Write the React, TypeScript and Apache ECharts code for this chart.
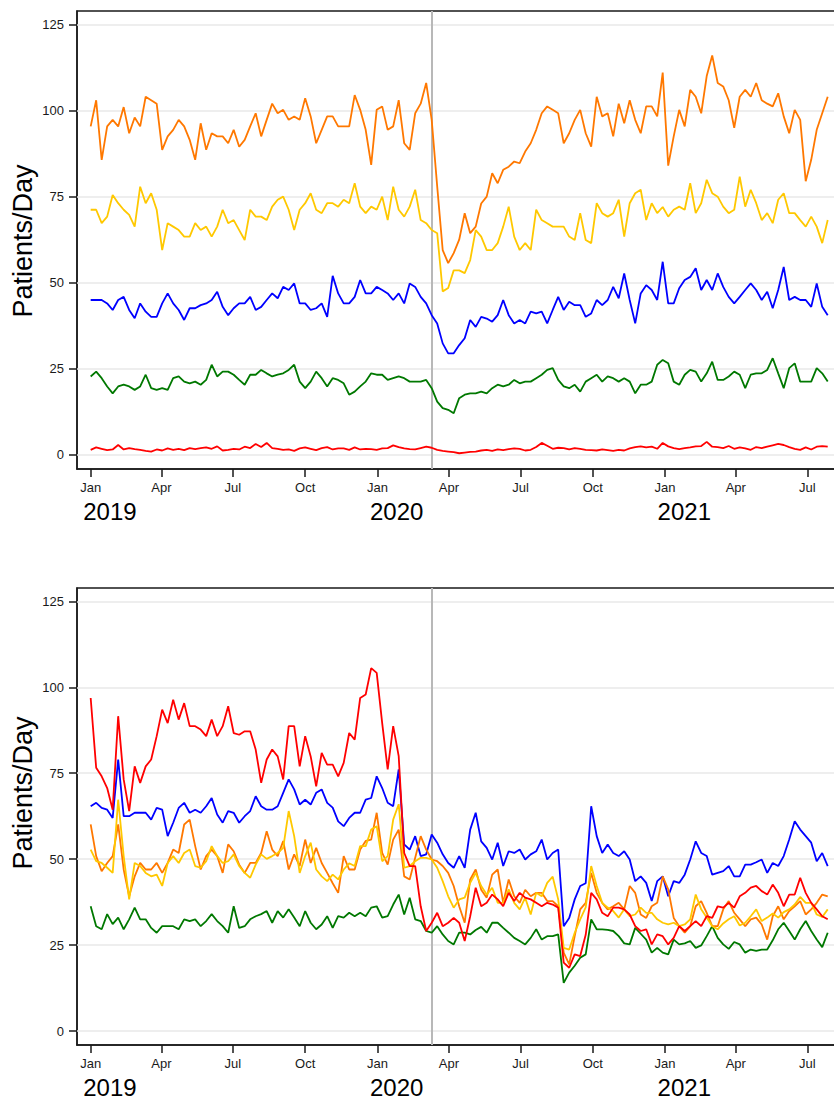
import React, { useEffect, useRef } from "react";
import * as echarts from "echarts";

// ---- Data (weekly readings, starting 1 Jan 2019) ----
const START_DATE = [2019, 0, 1];
const STEP_DAYS = 7;
const EVENT_DATE = [2020, 2, 10];
const yTicks = [0, 25, 50, 75, 100, 125];
const monthTicks = [
  [2019, 0], [2019, 3], [2019, 6], [2019, 9],
  [2020, 0], [2020, 3], [2020, 6], [2020, 9],
  [2021, 0], [2021, 3], [2021, 6],
];
const yearTicks = [2019, 2020, 2021];
const monthNames = ["Jan", "Feb", "Mar", "Apr", "May", "Jun", "Jul", "Aug", "Sep", "Oct", "Nov", "Dec"];

// Top panel
const topOrange = [
  95.4, 103, 85.7, 95.4, 97.3, 95.4, 101, 93.4, 98, 95.4, 104, 103, 102, 88.6, 92.5, 94.4, 97.3, 95.4, 91.5, 85.7,
  96.3, 88.6, 93.4, 92.5, 92.5, 90.5, 94.4, 89.5, 91.5, 95.4, 99.2, 92.5, 97.3, 102, 99.2, 100.2, 97.3, 98.3, 97.3, 103.6,
  98.3, 90.5, 94.4, 98.3, 98.3, 95.4,
  95.4, 95.4, 104.5, 100.2, 94.4, 84.2, 100.2, 101.2, 94.4, 95.4, 103, 90.5, 88.6, 99.2, 102, 108, 97.3, 78, 59.5, 55.7,
  58.6, 62.5, 70.2, 64.4, 66.3, 73, 75, 81.8, 78.9, 82.8, 83.7, 85.2, 84.7, 88.1, 90.5, 94.4, 99.2, 101.2, 100.2, 99.2,
  90.5, 93.4, 97.3, 100.2, 93.4,
  89.5, 104, 98.3, 99.2, 92.5, 102, 96.3, 103, 97.3, 93.4, 101.2, 101.2, 98.3, 111, 84, 92.5, 100.2, 95.4, 106, 104,
  99.2, 110, 116, 108, 107, 103, 95, 104, 106, 104, 108, 103, 102, 101.2, 105, 98.3, 93.4, 100.2, 97.3, 79.5,
  85.7, 94.4, 99.2, 104,
];
const topYellow = [
  71.2, 71.2, 67.3, 69.2, 75.5, 73.1, 71.2, 69.7, 66.3, 77.9, 73.1, 76, 71.2, 59.5, 67.3, 66.3, 65.3, 63.4, 63.4, 67.3,
  65.3, 66.3, 63.4, 66.3, 71.2, 67.3, 68.2, 65.3, 62.4, 71.2, 69.2, 69.2, 68.2, 72.1, 74.1, 75, 71.2, 65.3, 71.2, 73.1,
  76, 71.2, 70.2, 73.1, 73.1, 72.1,
  74.1, 73.1, 78.9, 72.1, 70.2, 72.1, 71.2, 75, 68.2, 77.9, 71.2, 69.2, 72.1, 77, 68.2, 67.3, 65.3, 64.4, 47.5, 48.5,
  53.6, 53.6, 52.8, 56.6, 65.3, 63.4, 59.5, 59.5, 61.5, 66.3, 72.1, 63.4, 59.5, 61.5, 59.5, 71.2, 68.2, 67.3, 66.3, 66.3,
  66.3, 63.4, 62.4, 70.2, 62.4,
  61.5, 73.1, 70.2, 69.2, 70.2, 74.1, 63.4, 73.1, 76, 77, 68.2, 73.1, 70.2, 72, 69.2, 71.2, 72.1, 71.2, 78.9, 70.2,
  73.1, 79.9, 76, 75, 72.1, 70.2, 71.2, 80.8, 72.1, 77, 73.1, 68.2, 70.2, 67.3, 74.1, 76, 70.2, 70.2, 68.2, 66.3,
  69.2, 66.3, 61.5, 68.2,
];
const topBlue = [
  45, 45, 45, 44, 42.1, 45, 45.9, 42.1, 39.7, 44, 41.6, 40.1, 40.1, 44, 46.9, 44, 42.1, 39.2, 42.6, 42.6,
  43.5, 44, 45, 47.4, 43, 40.6, 42.6, 44, 44, 45.9, 42.1, 43, 45, 46.9, 45.5, 48.8, 47.9, 49.8, 44, 44,
  42.1, 42.6, 44, 40.1, 52,
  46.9, 44, 44, 45.9, 50.8, 46.9, 46.9, 48.8, 47.9, 46.9, 45, 46.9, 44, 49.8, 48.8, 45.9, 44, 40.6, 38.2, 32.4,
  29.5, 29.5, 31.9, 33.9, 39.2, 37.2, 40.1, 39.6, 38.7, 40.6, 45, 40.6, 38.2, 39.2, 38.2, 41.6, 41.1, 41.6, 38.2, 42.1,
  45.9, 42.1, 44.5, 43.5, 43.5, 40.1,
  41.1, 45, 43.5, 45, 48.8, 45.5, 52.7, 45, 38.2, 46.9, 49.3, 47.9, 45, 56.1, 44, 44, 48.4, 50.8, 51.7, 54.2,
  47.9, 50.8, 47.9, 52.7, 48.8, 45.9, 44, 45.9, 47.9, 49.8, 47.9, 45, 47.4, 42.6, 47.9, 54.6, 45, 45.9, 45, 45,
  43, 49.8, 43, 40.6,
];
const topGreen = [
  22.8, 24.2, 22.3, 19.9, 17.9, 19.9, 20.4, 19.9, 18.9, 19.9, 23.3, 19.4, 18.9, 19.4, 18.9, 22.3, 22.8, 21.3, 20.8, 21.3,
  20.4, 21.8, 26.2, 22.8, 24.2, 24.2, 23.3, 21.8, 20.4, 23.3, 23.3, 24.7, 23.7, 22.8, 23.3, 23.7, 24.7, 26.2, 21.3, 19.4,
  21.3, 24.2, 22.3, 19.9, 22.3,
  21.8, 20.8, 17.5, 18.4, 19.9, 21.3, 23.7, 23.3, 23.3, 21.8, 22.3, 22.8, 22.3, 21.3, 21.3, 21.3, 21.8, 19.4, 15.5, 13.6,
  13.1, 12.1, 16.5, 17.5, 17.9, 17.9, 18.4, 17.9, 19.4, 20.4, 19.9, 20.4, 21.8, 20.8, 21.3, 21.3, 22.3, 23.3, 24.7, 25.2,
  21.8, 19.9, 19.4, 20.4, 18.4, 21.3,
  22.3, 23.3, 21.3, 22.8, 22.3, 21.3, 22.3, 21.3, 17.9, 20.4, 20.4, 21.3, 26.2, 27.6, 26.6, 21.3, 20.4, 23.3, 24.7, 24.2,
  21.3, 23.7, 27.1, 21.8, 21.8, 22.8, 24.2, 23.3, 19.4, 23.3, 23.7, 23.7, 24.7, 28.1, 23.7, 19.4, 25.2, 26.6, 21.3, 21.3,
  21.3, 25.2, 23.7, 21.3,
];
const topRed = [
  1.5, 2.2, 1.8, 1.4, 1.6, 2.9, 1.6, 2.0, 1.7, 1.5, 1.2, 1.0, 1.6, 1.3, 1.9, 1.5, 1.8, 1.4, 2.0, 1.7,
  2.0, 2.2, 1.8, 2.5, 1.3, 1.5, 1.8, 1.6, 2.4, 2.0, 3.2, 2.3, 3.5, 2.0, 1.8, 1.5, 1.6, 1.2, 1.9, 2.2,
  1.8, 1.4, 2.0, 2.3, 1.6, 1.9,
  1.9, 1.5, 2.2, 1.6, 1.8, 1.7, 1.5, 1.9, 2.0, 2.8, 2.3, 1.9, 1.7, 1.6, 2.0, 2.4, 2.1, 1.5, 1.2, 1.0,
  0.8, 0.5, 0.7, 0.9, 1.0, 1.3, 1.5, 1.2, 1.6, 1.4, 1.7, 1.9, 1.8, 1.3, 1.5, 2.3, 3.5, 2.7, 1.8, 2.1,
  2.0, 1.6, 2.0, 1.8, 1.5,
  1.4, 1.3, 1.6, 1.4, 1.2, 1.5, 1.3, 1.9, 2.3, 2.5, 2.2, 2.4, 1.8, 3.5, 2.5, 2.0, 1.7, 2.0, 2.2, 2.5,
  2.6, 3.8, 2.4, 2.3, 2.0, 2.6, 1.8, 2.2, 1.9, 1.5, 2.3, 2.0, 2.4, 2.8, 3.2, 2.9, 2.3, 1.8, 1.5, 2.2,
  1.6, 2.4, 2.6, 2.4,
];

// Bottom panel
const botRed = [
  96.9, 76.6, 74.1, 70.7, 64.4, 91.6, 73.2, 64, 77, 72.2, 77, 79, 85.8, 93.5, 89.6, 96.4, 90.6, 95.4, 88.7, 88.7,
  87.7, 85.8, 90.6, 85.8, 88.7, 94.5, 86.7, 86.2, 87.2, 87.2, 81.9, 72.2, 79, 81.9, 79.9, 73.2, 88.7, 88.7, 77, 85.8,
  79.9, 71.2, 80.9, 77.5, 77.5, 74.1,
  78, 86.7, 84.8, 96.9, 97.9, 105.6, 104.2, 89.6, 76.1, 88.7, 80, 51.8, 48, 48, 36.3, 29.1, 31.5, 34.4, 30.5, 31.5,
  32.9, 31.5, 26.2, 33.4, 41.7, 36.3, 37.3, 39.7, 38.3, 36.3, 40.2, 37.8, 40.2, 38.8, 38.3, 37.3, 36.3, 37.3, 36.8, 35.9,
  19.9, 18.4, 22.3, 21.8, 28,
  40.2, 38.3, 34.4, 33.4, 35.9, 35.9, 35.4, 33.9, 30.5, 29.1, 29.6, 25.2, 28.1, 27.6, 25.2, 27.1, 30.5, 29.1, 30.5, 32,
  30.5, 33.4, 32.9, 36.3, 35.9, 37.3, 35.9, 39.2, 40.2, 41.7, 42.2, 40.7, 39.7, 42.6, 40.2, 36.3, 39.7, 39.7, 44.6, 40.2,
  37.3, 35.4, 33.4, 32.5,
];
const botBlue = [
  65.4, 66.4, 64.9, 64.4, 62, 79, 62.5, 62.5, 63.5, 63.5, 63.5, 61.5, 64.9, 64.4, 56.7, 60.6, 64.9, 66.4, 63.5, 64.4,
  63.5, 65.4, 67.8, 63, 60.6, 64, 63.5, 60.6, 62.5, 64, 68.3, 65.4, 64.4, 64.4, 65.4, 69.3, 73.2, 70.3, 65.9, 67.3,
  65.9, 69.3, 70.3, 66.4, 65,
  61, 59.6, 62, 63.5, 63.5, 67.3, 67.8, 74.1, 70.7, 66.4, 65.4, 76.1, 54.3, 52.8, 56.7, 50.9, 51.4, 57.2, 54.8, 51.4,
  48.9, 47.5, 50.9, 47.5, 58.6, 63.5, 55.2, 53.3, 49.9, 54.8, 48, 52.3, 51.8, 52.8, 49.9, 51.4, 52.3, 55.7, 49.9, 51.8,
  52.8, 30.5, 32.9, 38.3, 42.2, 43,
  65.4, 56.7, 51.8, 54.3, 51.8, 50.9, 52.3, 49.9, 43.6, 45, 43.1, 37.8, 43.6, 45, 39.2, 43.6, 43.1, 45.5, 49.9, 55.2,
  51.8, 50.9, 45.5, 46, 46.5, 48, 45, 45, 48.4, 48.4, 49.1, 49.9, 46, 48.9, 48, 50.9, 55.7, 61, 58.6, 56.7,
  54.8, 49.4, 51.8, 48,
];
const botGreen = [
  36.3, 30.5, 29.6, 34, 31.1, 33, 29.6, 32.5, 35.9, 32.5, 32.5, 30, 28.6, 30.5, 30.5, 30.5, 29.6, 32.5, 32, 32.5,
  30.5, 32, 34, 32, 30.5, 28.6, 36.3, 30, 30.5, 32.5, 33.4, 34, 34.9, 31.5, 34.9, 33, 35.4, 33, 30.5, 34.9,
  31.5, 29.6, 31, 33.4, 30,
  33.4, 33, 34.4, 33.4, 34.4, 33.4, 35.9, 36.3, 33, 33.4, 36.8, 39.7, 33.9, 38.8, 32.5, 32, 29.1, 28.6, 30.5, 28.1,
  26.2, 25.2, 28.6, 28.6, 28.1, 29.4, 30.3, 28.6, 31.5, 31.5, 30, 28.6, 27.1, 26.2, 25.2, 27.1, 29.6, 26.6, 27.6, 27.6,
  28.1, 14, 17, 19, 21.3, 22.3,
  32.5, 29.6, 29.6, 29.4, 29.1, 27.6, 25.5, 25.2, 30, 28.3, 26.6, 22.8, 24.2, 22.8, 22.3, 26.6, 25.2, 25.5, 26.2, 24.2,
  24.9, 27.6, 30.5, 27.1, 25.2, 23.9, 25.9, 25.2, 22.8, 23.7, 23.3, 23.7, 23.7, 26.4, 29.6, 31.5, 29.1, 26.6, 29.6, 32,
  29.1, 26.6, 24.4, 28.6,
];
const botOrange = [
  60.1, 50.9, 46.5, 48.9, 50.9, 60.1, 47, 39.2, 45, 48.9, 47, 47, 48.9, 46, 48.9, 52.8, 51.8, 60.1, 61.5, 53.8,
  47, 50.9, 52.8, 50.9, 46, 54.3, 52.3, 48.4, 46, 48.9, 48.9, 51.8, 58.1, 52.8, 50.9, 55.3, 47, 51.4, 48, 55.7,
  48.9, 53.3, 48.9, 46, 43,
  40.2, 50.9, 47, 47, 52.8, 55.3, 55.7, 63.5, 51.8, 48.4, 55.7, 58.6, 45, 44.1, 50.4, 56.7, 52.8, 49.9, 49.4, 48,
  46, 42.2, 36.3, 31.5, 44.1, 47, 41.1, 38.8, 45.5, 47, 37.3, 44.1, 39.2, 37.3, 41.1, 39.2, 40.2, 40.2, 37.8, 37.8,
  36.3, 22.8, 19.4, 27.6, 35.4, 37.3,
  46, 40.2, 37.3, 35.4, 36.3, 37.3, 35.4, 42.2, 40.2, 33.9, 32.9, 36.3, 37.3, 45, 41.2, 32.9, 30.5, 28.6, 30.5, 36.3,
  37.8, 34.4, 30.5, 30.5, 35.4, 37.8, 34.4, 32.5, 30.5, 32.5, 33, 31, 26.6, 33.4, 36.3, 32.5, 34.9, 36.3, 37.8, 33.9,
  35.4, 37.3, 39.7, 39.2,
];
const botYellow = [
  52.8, 49.4, 48.9, 47.5, 46, 67.3, 50.9, 38.3, 48.9, 48, 46, 45, 45.5, 42.2, 48.9, 50.9, 48.9, 51.8, 52.8, 48,
  47.5, 49.4, 53.8, 50.9, 48.9, 49.4, 51.4, 48, 46, 44.6, 48.4, 51.4, 50.1, 50.9, 51.8, 53.3, 64, 56.7, 46, 50.9,
  54.8, 47, 45, 43.6, 45.5,
  44.1, 47, 48.8, 48, 53.8, 53.8, 58.6, 59.6, 49.4, 50.9, 61.5, 66, 47.5, 48, 49.4, 50.4, 50.4, 49.9, 47.5, 43.6,
  39.2, 35.9, 38.3, 38.8, 43.1, 46, 42.2, 39.7, 41.7, 37.3, 37.3, 41.2, 37.3, 35.4, 38.8, 33.9, 40.2, 39.2, 43.1, 44.9,
  38.3, 24.2, 23.7, 28.6, 32.5, 36,
  48, 42.2, 37.3, 35.9, 34.9, 33, 35.4, 33.4, 33.9, 35.9, 34.4, 34.4, 32.5, 31.5, 31, 31.5, 30.5, 31, 32.5, 39.7,
  35.4, 33, 30.5, 29.6, 31.3, 32.5, 33.4, 30.7, 31.5, 33.4, 35.4, 32, 33, 34.2, 33, 34.6, 35.4, 36.8, 39, 37.3,
  37.3, 33.9, 33.2, 35.4,
];

// ---- Helpers (x values are days since 1 Jan 2019) ----
const DAY_MS = 86400000;
const startTs = new Date(START_DATE[0], START_DATE[1], START_DATE[2]).getTime();
const toDay = (y: number, m: number, d: number) => Math.round((new Date(y, m, d).getTime() - startTs) / DAY_MS);
const dayToDate = (v: number) => new Date(startTs + v * DAY_MS + 12 * 3600000);
const days = topOrange.map((_, i) => i * STEP_DAYS);
const eventDay = toDay(EVENT_DATE[0], EVENT_DATE[1], EVENT_DATE[2]);
const monthDays = monthTicks.map(([y, m]) => toDay(y, m, 1));
const yearDays = yearTicks.map((y) => toDay(y, 0, 1));

const X_MIN = -17.4;
const X_MAX = 960;
const YEAR_SHIFT = 9.5;
const Y_MIN = -4.07;
const Y_MAX = 128.9;

const FONT = "'Liberation Sans', Arial, Helvetica, sans-serif";
const INK = "#1a1a1a";

const COLORS = {
  orange: "#ff7800",
  yellow: "#ffc800",
  blue: "#0000ff",
  green: "#007800",
  red: "#ff0000",
};

function pair(vals: number[]) {
  return vals.map((v, i) => [days[i], v]);
}

function monthAxis(gridIndex: number) {
  return {
    type: "value",
    gridIndex,
    min: X_MIN,
    max: X_MAX,
    axisLine: { show: true, onZero: false, lineStyle: { color: INK, width: 1.5 } },
    axisTick: { show: true, length: 8, lineStyle: { color: INK, width: 1.5 }, customValues: monthDays },
    axisLabel: {
      customValues: monthDays,
      formatter: (v: number) => monthNames[dayToDate(v).getMonth()],
      fontSize: 13,
      fontFamily: FONT,
      color: INK,
      margin: 12,
    },
    splitLine: { show: false },
  };
}

function yearAxis(gridIndex: number) {
  return {
    type: "value",
    gridIndex,
    position: "bottom",
    min: X_MIN + YEAR_SHIFT,
    max: X_MAX + YEAR_SHIFT,
    axisLine: { show: false, onZero: false },
    axisTick: { show: false },
    axisLabel: {
      customValues: yearDays,
      formatter: (v: number) => String(dayToDate(v).getFullYear()),
      fontSize: 24,
      fontFamily: FONT,
      color: "#000",
      align: "left",
      margin: 30,
    },
    splitLine: { show: false },
  };
}

function valueAxis(gridIndex: number) {
  return {
    type: "value",
    gridIndex,
    min: Y_MIN,
    max: Y_MAX,
    axisLine: { show: true, onZero: false, lineStyle: { color: INK, width: 1.5 } },
    axisTick: { show: true, length: 8, lineStyle: { color: INK, width: 1.5 }, customValues: yTicks },
    axisLabel: { customValues: yTicks, fontSize: 13, fontFamily: FONT, color: INK, margin: 13 },
    splitLine: { show: false },
  };
}

function guideSeries(xi: number, yi: number) {
  return {
    name: "guides" + yi,
    type: "line",
    xAxisIndex: xi,
    yAxisIndex: yi,
    data: [],
    z: 1,
    silent: true,
    markLine: {
      z: 1,
      silent: true,
      symbol: ["none", "none"],
      label: { show: false },
      emphasis: { disabled: true },
      data: [
        ...yTicks.map((v) => ({ yAxis: v, lineStyle: { color: "#e9e9e9", width: 1.5, type: "solid" } })),
        { xAxis: eventDay, lineStyle: { color: "#b8b8b8", width: 2, type: "solid" } },
      ],
    },
  };
}

function line(name: string, vals: number[], color: string, xi: number, yi: number) {
  return {
    name,
    type: "line",
    xAxisIndex: xi,
    yAxisIndex: yi,
    data: pair(vals),
    z: 3,
    showSymbol: false,
    symbol: "none",
    lineStyle: { color, width: 1.8 },
    itemStyle: { color },
    emphasis: { disabled: true },
    silent: true,
  };
}

export default function App() {
  const ref = useRef<HTMLDivElement>(null);

  useEffect(() => {
    if (!ref.current) return;
    const chart = echarts.init(ref.current, undefined, { renderer: "svg" });
    const titleStyle = { text: "Patients/Day", fontSize: 27, fontFamily: FONT, fill: "#000", align: "center", verticalAlign: "middle" };
    const option: any = {
      animation: false,
      backgroundColor: "#ffffff",
      grid: [
        { left: 77, top: 11, width: 768, height: 458, show: true, borderColor: INK, borderWidth: 1.5, backgroundColor: "transparent" },
        { left: 77, top: 588, width: 768, height: 458, show: true, borderColor: INK, borderWidth: 1.5, backgroundColor: "transparent" },
      ],
      xAxis: [monthAxis(0), yearAxis(0), monthAxis(1), yearAxis(1)],
      yAxis: [valueAxis(0), valueAxis(1)],
      graphic: [
        { type: "text", x: 23, y: 241, rotation: Math.PI / 2, style: titleStyle },
        { type: "text", x: 23, y: 793, rotation: Math.PI / 2, style: titleStyle },
      ],
      series: [
        guideSeries(0, 0),
        line("Top red", topRed, COLORS.red, 0, 0),
        line("Top green", topGreen, COLORS.green, 0, 0),
        line("Top blue", topBlue, COLORS.blue, 0, 0),
        line("Top yellow", topYellow, COLORS.yellow, 0, 0),
        line("Top orange", topOrange, COLORS.orange, 0, 0),
        guideSeries(2, 1),
        line("Bottom green", botGreen, COLORS.green, 2, 1),
        line("Bottom blue", botBlue, COLORS.blue, 2, 1),
        line("Bottom orange", botOrange, COLORS.orange, 2, 1),
        line("Bottom yellow", botYellow, COLORS.yellow, 2, 1),
        line("Bottom red", botRed, COLORS.red, 2, 1),
      ],
    };
    chart.setOption(option);
    return () => chart.dispose();
  }, []);

  return (
    <div style={{ position: "absolute", left: 0, top: 0, width: 834, height: 1099, overflow: "hidden", background: "#fff" }}>
      <div ref={ref} style={{ width: 880, height: 1099 }} />
    </div>
  );
}
